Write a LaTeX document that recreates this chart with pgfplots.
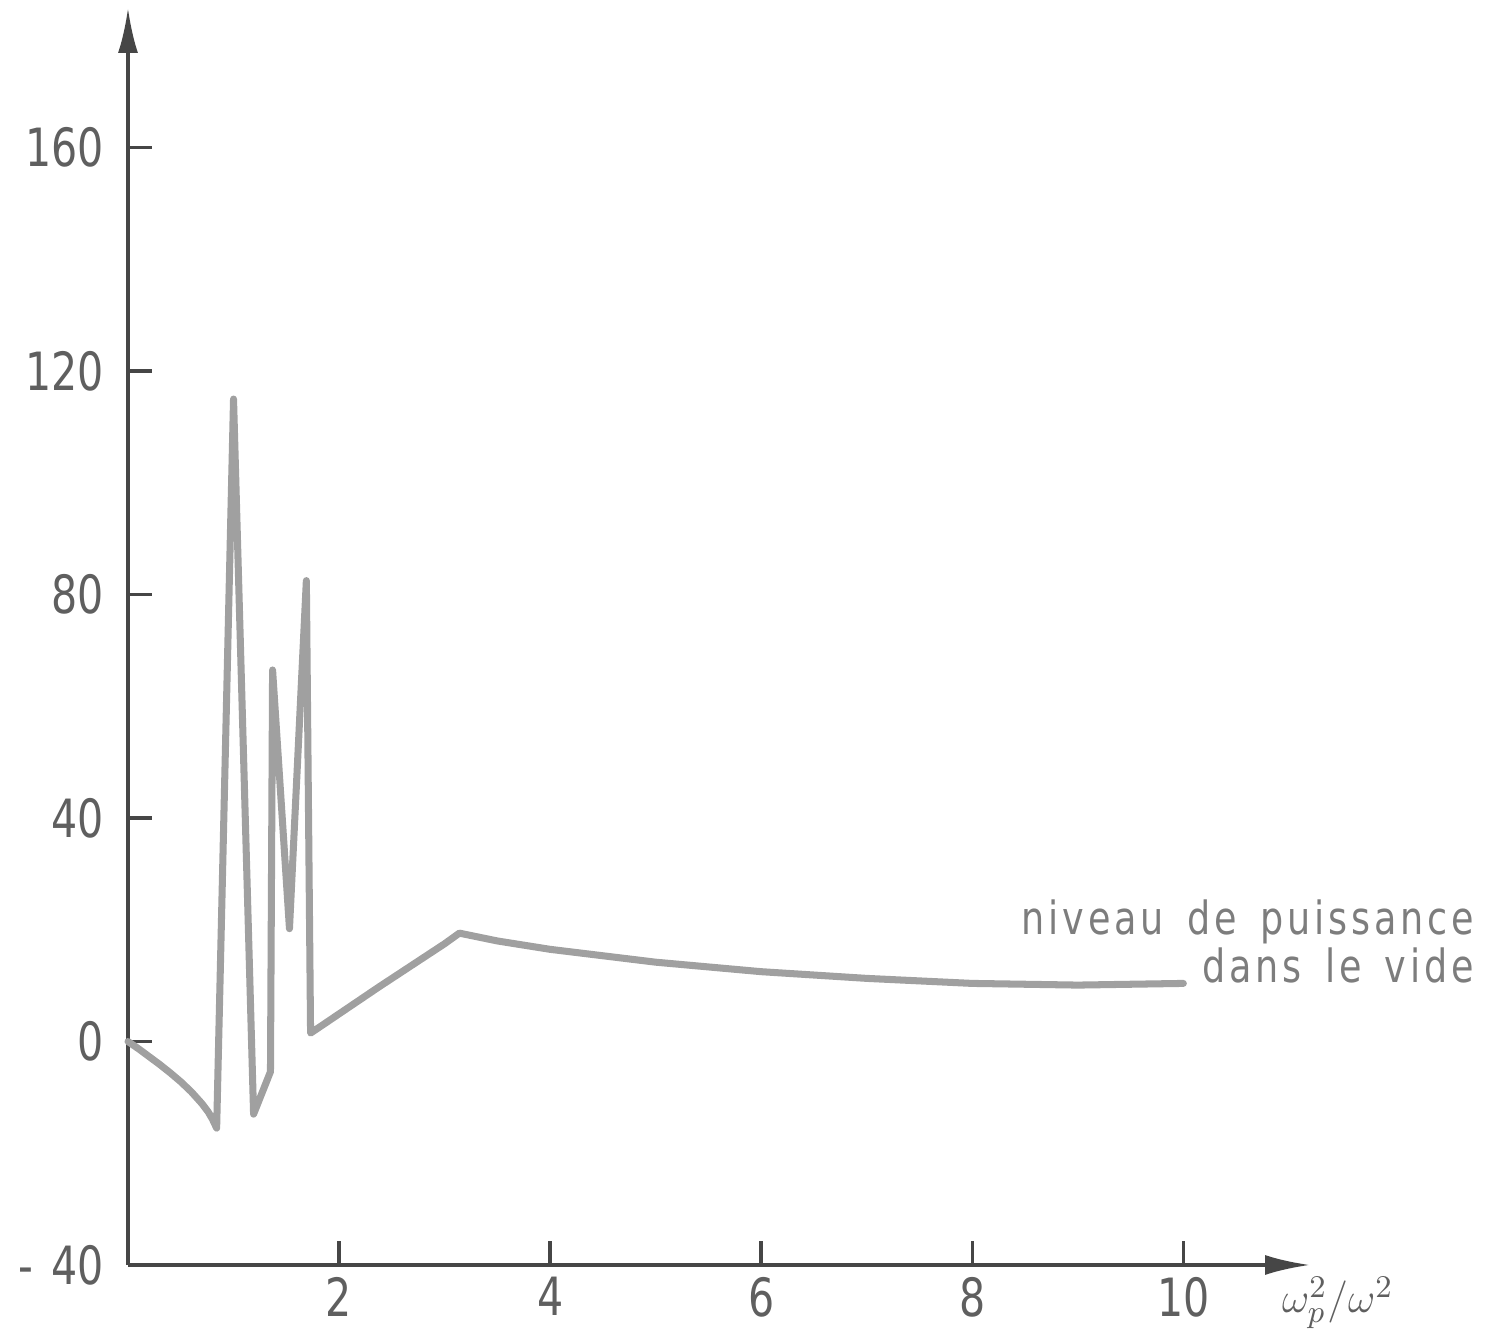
\documentclass[border=0pt]{standalone}
\usepackage{pgfplots}
\pgfplotsset{compat=1.18}
\usepackage{fontspec}
\setmainfont{DejaVu Sans}[FakeStretch=0.78]
\newfontfamily\notefont{DejaVu Sans}[FakeStretch=0.8, LetterSpace=8.5, WordSpace=1.5]
\usetikzlibrary{arrows.meta}
\definecolor{curve}{RGB}{160,160,160}
\definecolor{axisc}{RGB}{70,70,70}
\definecolor{labc}{RGB}{95,95,95}
\definecolor{txtc}{RGB}{125,125,125}
\begin{document}
\begin{tikzpicture}
\useasboundingbox (0,0) rectangle (14.95,13.43);
\begin{axis}[
  at={(1.28cm,0.78cm)}, anchor=south west,
  scale only axis, width=11.82cm, height=12.57cm,
  xmin=0, xmax=11.2, ymin=-40, ymax=185,
  axis lines=left, clip=false,
  axis line style={axisc, line width=1pt, -{Latex[length=0.45cm,width=0.2cm]}},
  xtick={2,4,6,8,10}, ytick={-40,0,40,80,120,160},
  yticklabels={{-\,\,40},0,40,80,120,160},
  tick align=inside, major tick length=0.24cm,
  tick style={axisc, line width=1pt},
  /pgf/number format/assume math mode=true,
  yticklabel style={font=\fontsize{15}{18}\selectfont, text=labc, xshift=-0.12cm},
  xticklabel style={font=\fontsize{15}{18}\selectfont, text=labc},
]
\addplot[curve, line width=2pt, line join=round, line cap=round] coordinates {
(0,0) (0.1,-1.3) (0.2,-2.7) (0.3,-4.1) (0.4,-5.6) (0.5,-7.2) (0.6,-9.0) (0.7,-11.1)
(0.76,-12.6) (0.8,-13.9) (0.84,-15.5)
(1.0,115) (1.19,-13) (1.35,-5.4) (1.37,66.5) (1.53,20.2) (1.69,82.5) (1.73,1.5)
(2.38,9.8) (3.0,17.5) (3.14,19.4) (3.5,18) (4,16.5) (5,14.2) (6,12.5) (7,11.3)
(8,10.4) (9,10.1) (10,10.4)
};
\node[anchor=base east, text=txtc, font=\fontsize{13}{16}\notefont, inner sep=0pt]
  at (axis cs:12.76,19.1) {niveau de puissance};
\node[anchor=base east, text=txtc, font=\fontsize{13}{16}\notefont, inner sep=0pt]
  at (axis cs:12.76,10.5) {dans le vide};
\node[text=labc, font=\fontsize{13}{16}\selectfont, anchor=west, inner sep=0pt] at (axis cs:10.93,-40) [yshift=-0.38cm] {$\omega_p^2/\omega^2$};
\end{axis}
\end{tikzpicture}
\end{document}
